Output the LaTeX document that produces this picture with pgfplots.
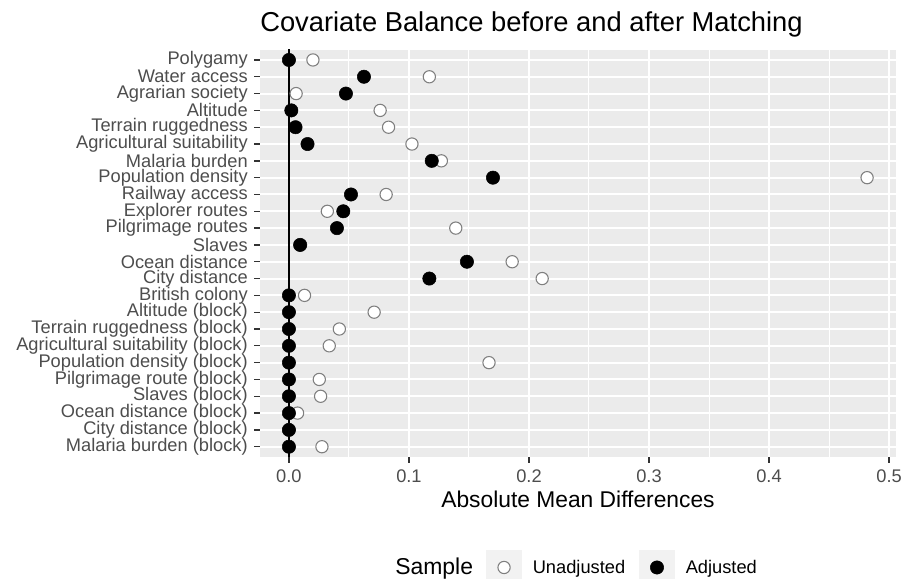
\documentclass[border=0pt]{standalone}
\usepackage{pgfplots}
\pgfplotsset{compat=1.18}
\usepackage{fontspec}
\setmainfont{Liberation Sans}
\definecolor{panelbg}{HTML}{EBEBEB}
\definecolor{keybg}{HTML}{F2F2F2}
\definecolor{ticklab}{HTML}{4D4D4D}
\definecolor{tickcol}{HTML}{333333}
\definecolor{opengray}{HTML}{7F7F7F}
\newcommand{\axfont}{\fontsize{13.7}{16}\selectfont}
\begin{document}
\begin{tikzpicture}
\path[use as bounding box] (-195pt,-90.9pt) rectangle (483.75pt,342.6pt);
\begin{axis}[
  at={(0,0)}, anchor=south west,
  width=477pt, height=305.2pt, scale only axis,
  xmin=-0.0241, xmax=0.5058, ymin=0.4, ymax=24.6,
  axis background/.style={fill=panelbg},
  axis line style={draw=none},
  xtick={0,0.1,0.2,0.3,0.4,0.5},
  minor xtick={0.05,0.15,0.25,0.35,0.45},
  xmajorgrids, xminorgrids, ymajorgrids,
  major grid style={white, line width=1.5pt},
  minor grid style={white, line width=0.75pt},
  minor tick length=0pt,
  ytick={1,...,24},
  yticklabels={Malaria burden (block),City distance (block),Ocean distance (block),Slaves (block),Pilgrimage route (block),Population density (block),Agricultural suitability (block),Terrain ruggedness (block),Altitude (block),British colony,City distance,Ocean distance,Slaves,Pilgrimage routes,Explorer routes,Railway access,Population density,Malaria burden,Agricultural suitability,Terrain ruggedness,Altitude,Agrarian society,Water access,Polygamy},
  tick align=outside, major tick length=4.3pt,
  tick style={color=tickcol, line width=1pt},
  xtick pos=bottom, ytick pos=left,
  tick label style={font=\axfont, text=ticklab},
  /pgf/number format/assume math mode=true,
  xticklabel style={/pgf/number format/.cd, fixed, fixed zerofill, precision=1, /tikz/.cd, inner sep=0pt, anchor=north, yshift=-4.9pt},
  yticklabel style={inner sep=0pt, anchor=east, xshift=-4.7pt},
  xlabel={Absolute Mean Differences},
  xlabel style={at={(axis description cs:0.5,0)}, anchor=center, yshift=-32pt, inner sep=0pt, font=\fontsize{17.1}{20}\selectfont},
  legend style={at={(axis description cs:0,0)}, anchor=west, xshift=169.5pt, yshift=-79.2pt, draw=none, fill=none, inner sep=0pt, legend columns=-1, nodes={inner sep=0pt, font=\axfont}, /tikz/every odd column/.style={column sep=8.25pt}, /tikz/every even column/.style={column sep=10.5pt}},
  legend image code/.code={\path[use as bounding box] (0pt,-4.9pt) rectangle (26.25pt,13.125pt); \fill[keybg] (0pt,-13.125pt) rectangle (26.25pt,13.125pt); \draw[#1] plot coordinates {(13.125pt,0pt)};},
]
\addplot[black, line width=1.5pt, forget plot] coordinates {(0,0) (0,25)};
\addplot[only marks, mark=*, mark size=4.6pt, mark options={draw=opengray, fill=white, line width=0.8pt}] coordinates {
(0.0275,1) (0.0,2) (0.0072,3) (0.0264,4) (0.0253,5) (0.1667,6) (0.0336,7) (0.042,8) (0.071,9) (0.013,10)
(0.211,11) (0.186,12) (0.009,13) (0.139,14) (0.032,15) (0.081,16) (0.4817,17) (0.127,18) (0.1025,19) (0.083,20)
(0.076,21) (0.006,22) (0.117,23) (0.020,24)};
\addlegendentry{Unadjusted}
\addplot[only marks, mark=*, mark size=5pt, mark options={draw=black, fill=black}] coordinates {
(0,1) (0,2) (0,3) (0,4) (0,5) (0,6) (0,7) (0,8) (0,9) (0,10)
(0.117,11) (0.1483,12) (0.0094,13) (0.040,14) (0.0453,15) (0.0517,16) (0.170,17) (0.119,18) (0.0155,19) (0.0055,20)
(0.002,21) (0.0475,22) (0.0625,23) (0.0,24)};
\addlegendentry{Adjusted}
\end{axis}
\node[anchor=base west, inner sep=0pt] at (0pt,318.6pt) {\fontsize{20.5}{24}\selectfont Covariate Balance before and after Matching};
\node[anchor=base west, inner sep=0pt] at (101.25pt,-88.1pt) {\fontsize{17.2}{20}\selectfont Sample};
\end{tikzpicture}
\end{document}
